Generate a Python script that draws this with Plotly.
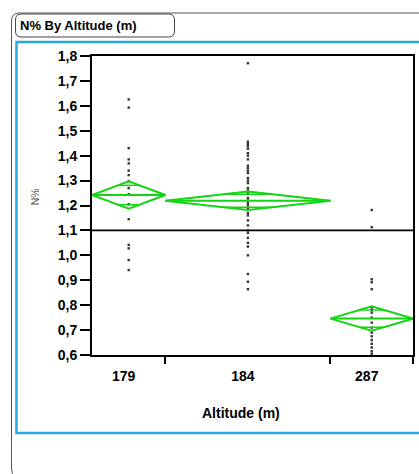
import plotly.graph_objects as go

# ---------------- data ----------------
groups = ["179", "184", "287"]
pts_179 = [1.626, 1.593, 1.430, 1.385, 1.369, 1.340, 1.322, 1.298,
           1.270, 1.245, 1.205, 1.145, 1.042, 1.028, 0.981, 0.941]
pts_184 = [1.771, 1.456, 1.447, 1.438, 1.428, 1.41, 1.40, 1.385, 1.36, 1.35,
           1.34, 1.33, 1.31, 1.30, 1.29, 1.27, 1.26, 1.25, 1.23, 1.22, 1.21,
           1.20, 1.19, 1.17, 1.16, 1.14, 1.12, 1.10, 1.09, 1.07, 1.05, 1.035,
           1.00, 0.925, 0.894, 0.864]
pts_287 = [1.182, 1.113, 0.904, 0.892, 0.864, 0.79, 0.78, 0.77, 0.75, 0.73,
           0.71, 0.69, 0.675, 0.66, 0.645, 0.63, 0.615, 0.605]
means = [1.242, 1.219, 0.746]
ci_half = [0.055, 0.037, 0.049]
grand_mean = 1.10
y_ticks = [0.6, 0.7, 0.8, 0.9, 1.0, 1.1, 1.2, 1.3, 1.4, 1.5, 1.6, 1.7, 1.8]

# ---------------- layout geometry ----------------
W, H = 419, 474
L, R, T, B = 92, 4, 56, 119
PW, PH = W - L - R, H - T - B


def fx(px):
    return (px - L) / PW


def fy(py):
    return (H - B - py) / PH


GREEN = "#14D414"
all_pts = [pts_179, pts_184, pts_287]
counts = [len(p) for p in all_pts]
edges = [0]
for c in counts:
    edges.append(edges[-1] + c)
centers = [(edges[i] + edges[i + 1]) / 2 for i in range(3)]
units_per_px = edges[-1] / PW
label_pos = [c - 5 * units_per_px for c in centers]

fig = go.Figure()

# points
for i, p in enumerate(all_pts):
    fig.add_trace(go.Scatter(
        x=[centers[i]] * len(p), y=p, mode="markers",
        marker=dict(size=2.4, color="#333333", symbol="square"),
        hoverinfo="skip", showlegend=False))

# means diamonds
r2 = 2 ** 0.5 / 2
for i in range(3):
    x0, x1, xc = edges[i], edges[i + 1], centers[i]
    m, c = means[i], ci_half[i]
    fig.add_trace(go.Scatter(
        x=[x0, xc, x1, xc, x0], y=[m, m + c, m, m - c, m], mode="lines",
        line=dict(color=GREEN, width=2), hoverinfo="skip", showlegend=False))
    fig.add_trace(go.Scatter(
        x=[x0, x1], y=[m, m], mode="lines",
        line=dict(color=GREEN, width=2), hoverinfo="skip", showlegend=False))
    half = (x1 - x0) / 2 * (1 - r2)
    for s in (1, -1):
        fig.add_trace(go.Scatter(
            x=[xc - half, xc + half], y=[m + s * c * r2] * 2, mode="lines",
            line=dict(color=GREEN, width=1.5), hoverinfo="skip",
            showlegend=False))

shapes = []
# grand mean line
shapes.append(dict(type="line", xref="paper", yref="y", x0=0, x1=1,
                   y0=grand_mean, y1=grand_mean,
                   line=dict(color="black", width=1.6)))
# blue frame
shapes.append(dict(type="rect", xref="paper", yref="paper",
                   x0=fx(16), x1=fx(432), y0=fy(433), y1=fy(42),
                   line=dict(color="#2AA8E2", width=2.5)))
# outer frame
outer = (f"M {fx(430)},{fy(13)} L {fx(19)},{fy(13)} "
         f"Q {fx(11)},{fy(13)} {fx(11)},{fy(21)} "
         f"L {fx(11)},{fy(468)} Q {fx(11)},{fy(474)} {fx(14)},{fy(477)}")
shapes.append(dict(type="path", xref="paper", yref="paper", path=outer,
                   line=dict(color="#555555", width=1)))
# title box (rounded rect)
x0, x1, y0, y1, r = 15, 175, 14, 37, 6
tb = (f"M {fx(x0 + r)},{fy(y0)} L {fx(x1 - r)},{fy(y0)} "
      f"Q {fx(x1)},{fy(y0)} {fx(x1)},{fy(y0 + r)} "
      f"L {fx(x1)},{fy(y1 - r)} Q {fx(x1)},{fy(y1)} {fx(x1 - r)},{fy(y1)} "
      f"L {fx(x0 + r)},{fy(y1)} Q {fx(x0)},{fy(y1)} {fx(x0)},{fy(y1 - r)} "
      f"L {fx(x0)},{fy(y0 + r)} Q {fx(x0)},{fy(y0)} {fx(x0 + r)},{fy(y0)} Z")
shapes.append(dict(type="path", xref="paper", yref="paper", path=tb,
                   line=dict(color="#444444", width=1),
                   fillcolor="white"))

FONT = "Liberation Sans, Arial, sans-serif"
annotations = [
    dict(text="N% By Altitude (m)", x=fx(18), y=fy(25.5), xref="paper",
         yref="paper", xanchor="left", yanchor="middle", showarrow=False,
         font=dict(family=FONT, size=13, color="black", weight="bold")),
    dict(text="Altitude (m)", x=fx(242), y=fy(413), xref="paper",
         yref="paper", xanchor="center", yanchor="middle", showarrow=False,
         font=dict(family=FONT, size=14, color="black", weight="bold")),
    dict(text="N%", x=fx(35), y=fy(197), xref="paper", yref="paper",
         xanchor="center", yanchor="middle", showarrow=False, textangle=-90,
         font=dict(family=FONT, size=10.5, color="#555555")),
]

fig.update_layout(
    width=W, height=H, margin=dict(l=L, r=R, t=T, b=B, pad=0),
    paper_bgcolor="white", plot_bgcolor="white",
    separators=",.", showlegend=False,
    shapes=shapes, annotations=annotations,
    xaxis=dict(range=[0, edges[-1]], tickvals=label_pos, ticktext=groups,
               ticks="outside", ticklen=7, tickcolor="rgba(0,0,0,0)",
               showgrid=False, zeroline=False, showline=True, mirror=True,
               linecolor="black", linewidth=2,
               tickfont=dict(family=FONT, size=14, color="black",
                             weight="bold"),
               minor=dict(tickvals=edges[1:], ticks="outside", ticklen=7,
                          tickwidth=2, tickcolor="black", showgrid=False)),
    yaxis=dict(range=[0.6, 1.8], tickvals=y_ticks, tickformat=".1f",
               ticks="outside", ticklen=10, tickwidth=2, tickcolor="black",
               showgrid=False, zeroline=False, showline=True, mirror=True,
               linecolor="black", linewidth=2,
               tickfont=dict(family=FONT, size=14, color="black",
                             weight="bold")),
)

fig.write_html("out.html")
